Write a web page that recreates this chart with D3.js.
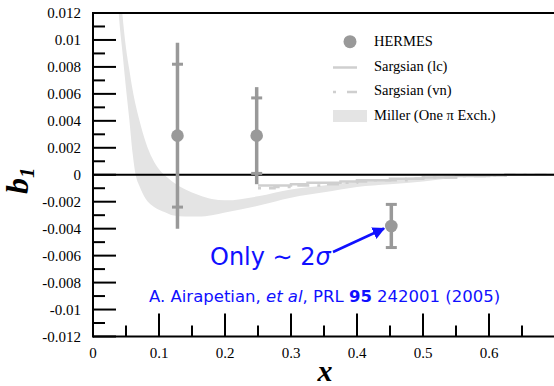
<!doctype html>
<html lang="en">

<head>
    <meta charset="UTF-8" />
    <script src="https://d3js.org/d3.v7.min.js"></script>
    <title>b1 HERMES</title>
    <style>
        body { margin: 0; background: white; }
    </style>
</head>

<body>
    <div id="chart"></div>
    <script>
        // HERMES data points
        const pointX = [0.128, 0.248, 0.452]
        const pointY = [0.0029, 0.0029, -0.0038]
        const statErr = [0.0053, 0.0028, 0.0016]
        const totalErr = [0.0069, 0.0036, 0.0016]

        // Miller (One pi exchange) band
        const millerX = [0.035, 0.039, 0.0444, 0.05, 0.055, 0.06, 0.065, 0.07, 0.08, 0.09, 0.1, 0.11, 0.12, 0.14, 0.16, 0.18, 0.2, 0.25, 0.3, 0.35, 0.4, 0.45, 0.5, 0.55, 0.6, 0.65, 0.7]
        const millerLow = [0.0155, 0.012, 0.0092, 0.0064, 0.0041, 0.0016, -0.0001, -0.0008, -0.0018, -0.0023, -0.0026, -0.0028, -0.003, -0.0031, -0.0031, -0.003, -0.0028, -0.0023, -0.0017, -0.0013, -0.0009, -0.0007, -0.0005, -0.0002, 0, 0, 0]
        const millerHigh = [0.019, 0.0155, 0.012, 0.0094, 0.0078, 0.0063, 0.0051, 0.0041, 0.0024, 0.0012, 0.0004, -0.0001, -0.0005, -0.0011, -0.0015, -0.0018, -0.0019, -0.0016, -0.0011, -0.0008, -0.0005, -0.0003, -0.00015, -0.00005, 0, 0, 0]

        // Sargsian step curves (bins of 0.025 starting at 0.25)
        const sargEdges = [0.25, 0.275, 0.3, 0.325, 0.35, 0.375, 0.4, 0.425, 0.45, 0.475, 0.5, 0.525, 0.55, 0.575, 0.6, 0.625, 0.65, 0.675, 0.7]
        const sargLc = [-0.0008, -0.0008, -0.0007, -0.0006, -0.0006, -0.0005, -0.0004, -0.0004, -0.0003, -0.0003, -0.0002, -0.0002, -0.0001, -0.0001, -0.00005, 0, 0, 0]
        const sargVn = [-0.001, -0.0009, -0.0008, -0.0008, -0.0007, -0.0006, -0.0005, -0.0004, -0.0004, -0.0003, -0.0002, -0.0002, -0.0001, -0.0001, -0.00005, 0, 0, 0]

        // ticks
        const xMajor = [0.1, 0.2, 0.3, 0.4, 0.5, 0.6]
        const xMinor = [0.05, 0.15, 0.25, 0.35, 0.45, 0.55, 0.65]
        const xLabels = ["0", "0.1", "0.2", "0.3", "0.4", "0.5", "0.6"]
        const yMajor = [0.012, 0.01, 0.008, 0.006, 0.004, 0.002, 0, -0.002, -0.004, -0.006, -0.008, -0.01, -0.012]
        const yLabels = ["0.012", "0.01", "0.008", "0.006", "0.004", "0.002", "0", "-0.002", "-0.004", "-0.006", "-0.008", "-0.01", "-0.012"]
        const yMinor = [0.011, 0.009, 0.007, 0.005, 0.003, 0.001, -0.001, -0.003, -0.005, -0.007, -0.009, -0.011]

        const legendItems = ["HERMES", "Sargsian (lc)", "Sargsian (vn)", "Miller (One \u03c0 Exch.)"]

        const W = 554, H = 386
        const x = d3.scaleLinear().domain([0, 0.7]).range([93, 555])
        const y = d3.scaleLinear().domain([-0.012, 0.012]).range([336.5, 13])

        const grey = "#999999"
        const lineGrey = "#cfcfcf"
        const bandGrey = "#e4e4e4"
        const serif = "'Liberation Serif', 'DejaVu Serif', serif"
        const sans = "'DejaVu Sans', sans-serif"

        const svg = d3.select("#chart")
            .append("svg")
            .attr("width", W)
            .attr("height", H)

        svg.append("clipPath")
            .attr("id", "plot-clip")
            .append("rect")
            .attr("x", 93).attr("y", 13)
            .attr("width", W - 93).attr("height", 336.5 - 13)

        const plot = svg.append("g").attr("clip-path", "url(#plot-clip)")

        // Miller band
        const band = d3.area()
            .x((d, i) => x(millerX[i]))
            .y0((d, i) => y(millerLow[i]))
            .y1((d, i) => y(millerHigh[i]))
            .curve(d3.curveMonotoneX)

        plot.append("path")
            .datum(millerX)
            .attr("d", band)
            .attr("fill", bandGrey)

        // Sargsian steps
        const stepLine = d3.line()
            .x(d => x(d[0]))
            .y(d => y(d[1]))
            .curve(d3.curveStepAfter)

        const stepPts = vals => sargEdges.map((e, i) => [e, vals[Math.min(i, vals.length - 1)]])

        plot.append("path")
            .datum(stepPts(sargVn))
            .attr("d", stepLine)
            .attr("fill", "none")
            .attr("stroke", lineGrey)
            .attr("stroke-width", 2.5)
            .attr("stroke-dasharray", "3,8,12,8")

        plot.append("path")
            .datum(stepPts(sargLc))
            .attr("d", stepLine)
            .attr("fill", "none")
            .attr("stroke", lineGrey)
            .attr("stroke-width", 2.5)

        // zero line and top frame
        svg.append("line")
            .attr("x1", x(0)).attr("x2", W)
            .attr("y1", y(0)).attr("y2", y(0))
            .attr("stroke", "black").attr("stroke-width", 2)

        svg.append("line")
            .attr("x1", x(0)).attr("x2", W)
            .attr("y1", y(0.012)).attr("y2", y(0.012))
            .attr("stroke", "black").attr("stroke-width", 2)

        // axes lines
        svg.append("line")
            .attr("x1", x(0)).attr("x2", x(0))
            .attr("y1", y(0.012) - 1).attr("y2", y(-0.012) + 1)
            .attr("stroke", "black").attr("stroke-width", 2)

        svg.append("line")
            .attr("x1", x(0)).attr("x2", W)
            .attr("y1", y(-0.012)).attr("y2", y(-0.012))
            .attr("stroke", "black").attr("stroke-width", 2)

        // y ticks (inward)
        svg.append("g").selectAll("line")
            .data(yMajor)
            .join("line")
            .attr("x1", x(0)).attr("x2", x(0) + 23)
            .attr("y1", d => y(d)).attr("y2", d => y(d))
            .attr("stroke", "black").attr("stroke-width", 2)

        svg.append("g").selectAll("line")
            .data(yMinor)
            .join("line")
            .attr("x1", x(0)).attr("x2", x(0) + 12)
            .attr("y1", d => y(d)).attr("y2", d => y(d))
            .attr("stroke", "black").attr("stroke-width", 2)

        svg.append("g").selectAll("text")
            .data(yMajor)
            .join("text")
            .attr("x", 81)
            .attr("y", d => y(d) + 5)
            .attr("text-anchor", "end")
            .attr("font-family", serif)
            .attr("font-size", 15)
            .text((d, i) => yLabels[i])

        // x ticks (upward)
        svg.append("g").selectAll("line")
            .data(xMajor)
            .join("line")
            .attr("x1", d => x(d)).attr("x2", d => x(d))
            .attr("y1", y(-0.012)).attr("y2", y(-0.012) - 23)
            .attr("stroke", "black").attr("stroke-width", 2)

        svg.append("g").selectAll("line")
            .data(xMinor)
            .join("line")
            .attr("x1", d => x(d)).attr("x2", d => x(d))
            .attr("y1", y(-0.012)).attr("y2", y(-0.012) - 11)
            .attr("stroke", "black").attr("stroke-width", 2)

        svg.append("g").selectAll("text")
            .data([0, ...xMajor])
            .join("text")
            .attr("x", d => x(d))
            .attr("y", 358)
            .attr("text-anchor", "middle")
            .attr("font-family", serif)
            .attr("font-size", 15)
            .text((d, i) => xLabels[i])

        // axis titles
        const yTitle = svg.append("text")
            .attr("transform", "translate(28,194) rotate(-90)")
            .attr("font-family", serif)
            .attr("font-weight", "bold")
            .attr("font-style", "italic")
            .attr("font-size", 32)
        yTitle.append("tspan").text("b")
        yTitle.append("tspan").attr("font-size", 21).attr("dy", 6).text("1")

        svg.append("text")
            .attr("x", 325)
            .attr("y", 381)
            .attr("text-anchor", "middle")
            .attr("font-family", serif)
            .attr("font-weight", "bold")
            .attr("font-style", "italic")
            .attr("font-size", 30)
            .text("x")

        // HERMES points with error bars
        const pts = svg.append("g")
        pointX.forEach((px, i) => {
            pts.append("line")
                .attr("x1", x(px)).attr("x2", x(px))
                .attr("y1", y(pointY[i] + totalErr[i])).attr("y2", y(pointY[i] - totalErr[i]))
                .attr("stroke", grey).attr("stroke-width", 3.5)
            ;[1, -1].forEach(s => {
                pts.append("line")
                    .attr("x1", x(px) - 5.5).attr("x2", x(px) + 5.5)
                    .attr("y1", y(pointY[i] + s * statErr[i])).attr("y2", y(pointY[i] + s * statErr[i]))
                    .attr("stroke", grey).attr("stroke-width", 3)
            })
            pts.append("circle")
                .attr("cx", x(px)).attr("cy", y(pointY[i]))
                .attr("r", 6.3)
                .attr("fill", grey)
        })

        // legend
        const legend = svg.append("g")
        const ly = [46, 71, 95, 120]
        legend.append("circle").attr("cx", 350).attr("cy", 41.7).attr("r", 6.5).attr("fill", grey)
        legend.append("line").attr("x1", 333).attr("x2", 357).attr("y1", 67.5).attr("y2", 67.5)
            .attr("stroke", lineGrey).attr("stroke-width", 2.5)
        legend.append("line").attr("x1", 333).attr("x2", 357).attr("y1", 92).attr("y2", 92)
            .attr("stroke", lineGrey).attr("stroke-width", 2.5).attr("stroke-dasharray", "3,11,10,6")
        legend.append("rect").attr("x", 333).attr("y", 110).attr("width", 34).attr("height", 12)
            .attr("fill", bandGrey)
        legend.selectAll("text")
            .data(legendItems)
            .join("text")
            .attr("x", 374)
            .attr("y", (d, i) => ly[i])
            .attr("font-family", serif)
            .attr("font-size", 14.5)
            .text(d => d)

        // annotation
        const blue = "#1010ff"
        const note = svg.append("text")
            .attr("x", 210).attr("y", 265)
            .attr("font-family", sans)
            .attr("font-size", 24)
            .attr("fill", blue)
        note.append("tspan").text("Only \u223c 2")
        note.append("tspan").attr("font-style", "italic").text("\u03c3")

        svg.append("defs").append("marker")
            .attr("id", "arrow")
            .attr("viewBox", "0 0 10 10")
            .attr("refX", 9).attr("refY", 5)
            .attr("markerWidth", 5).attr("markerHeight", 5)
            .attr("orient", "auto")
            .append("path")
            .attr("d", "M0,0L10,5L0,10z")
            .attr("fill", blue)

        svg.append("line")
            .attr("x1", 333).attr("y1", 252)
            .attr("x2", 384).attr("y2", 228.5)
            .attr("stroke", blue).attr("stroke-width", 2.5)
            .attr("marker-end", "url(#arrow)")

        const cite = svg.append("text")
            .attr("x", 149).attr("y", 302)
            .attr("font-family", sans)
            .attr("font-size", 16.5)
            .attr("fill", blue)
        cite.append("tspan").text("A. Airapetian, ")
        cite.append("tspan").attr("font-style", "italic").text("et al")
        cite.append("tspan").text(", PRL ")
        cite.append("tspan").attr("font-weight", "bold").text("95")
        cite.append("tspan").text(" 242001 (2005)")
    </script>
</body>

</html>
